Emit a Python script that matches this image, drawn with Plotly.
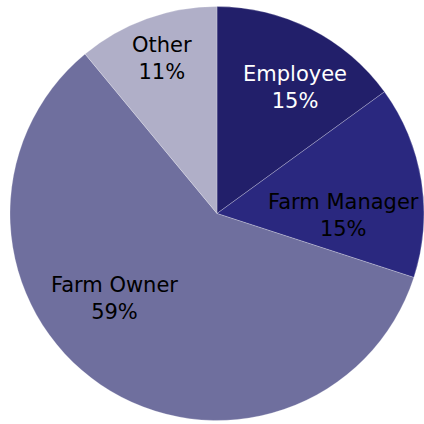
import plotly.graph_objects as go

labels = ["Employee", "Farm Manager", "Farm Owner", "Other"]
values = [15, 15, 59, 11]
colors = ["#221F6A", "#2A287F", "#6F6F9E", "#B0AFC8"]
text_colors = ["#FFFFFF", "#000000", "#000000", "#000000"]
# label anchor positions in pixels (x, y from top-left)
label_pos = [(295, 87), (343, 215), (114, 298), (162, 58)]

W = H = 424

fig = go.Figure(go.Pie(
    labels=labels,
    values=values,
    sort=False,
    direction="clockwise",
    rotation=0,
    marker=dict(colors=colors, line=dict(color="rgba(255,255,255,0.4)", width=0.6)),
    textinfo="none",
    hoverinfo="label+percent",
    showlegend=False,
    domain=dict(x=[10 / W, 1.0], y=[3 / H, 418 / H]),
))

total = sum(values)
for lab, val, col, (px, py) in zip(labels, values, text_colors, label_pos):
    fig.add_annotation(
        x=px / W, y=1 - py / H, xref="paper", yref="paper",
        text=f"{lab}<br>{round(100 * val / total)}%",
        showarrow=False, align="center",
        xanchor="center", yanchor="middle",
        font=dict(family="DejaVu Sans", size=21, color=col),
    )

fig.update_layout(
    width=W, height=H,
    margin=dict(l=0, r=0, t=0, b=0),
    paper_bgcolor="white",
    plot_bgcolor="white",
)

fig.write_html("out.html", config={"displayModeBar": False},
               post_script="document.body.style.margin='0';")
